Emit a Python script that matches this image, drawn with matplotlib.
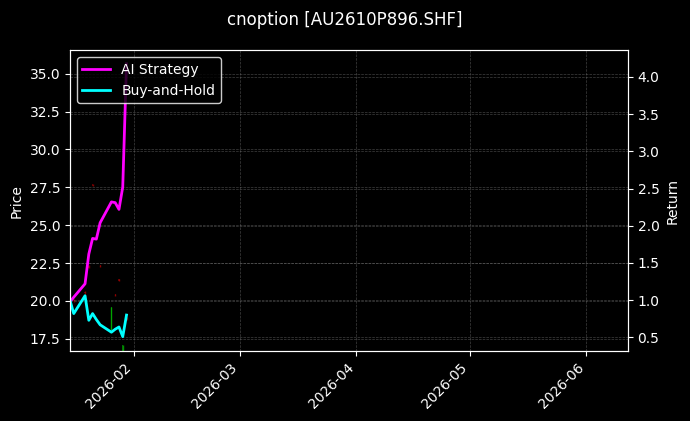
import numpy as np
import pandas as pd
import matplotlib
matplotlib.use("Agg")
import matplotlib.pyplot as plt
import matplotlib.dates as mdates

# trading days shown in the chart
dates = pd.to_datetime(["2026-01-15", "2026-01-16", "2026-01-19", "2026-01-20",
                        "2026-01-21", "2026-01-22", "2026-01-23", "2026-01-26",
                        "2026-01-27", "2026-01-28", "2026-01-29", "2026-01-30"])

# option price candles (mostly tiny, barely visible)
opens  = [19.9, 20.1, 20.6, 22.3, 27.70, 24.3, 22.35, 18.1, 20.45, 21.45, 16.6, 18.9]
closes = [19.8, 20.0, 20.5, 22.2, 27.60, 24.2, 22.25, 19.6, 20.35, 21.35, 17.1, 18.8]
highs  = [19.95, 20.15, 20.65, 22.35, 27.70, 24.35, 22.35, 19.6, 20.45, 21.45, 17.1, 18.95]
lows   = [19.75, 19.95, 20.45, 22.15, 27.60, 24.15, 22.25, 18.1, 20.35, 21.35, 16.6, 18.75]

# cumulative returns
ai_strategy  = [0.98, 1.04, 1.22, 1.62, 1.83, 1.82, 2.04, 2.32, 2.31, 2.22, 2.52, 4.175]
buy_and_hold = [1.00, 0.82, 1.06, 0.73, 0.82, 0.74, 0.67, 0.57, 0.61, 0.64, 0.51, 0.80]

plt.style.use("dark_background")
fig = plt.figure(figsize=(6.9, 4.21), dpi=100)
ax = fig.add_axes([0.1014, 0.166, 0.8086, 0.715])
ax2 = ax.twinx()

# candles on price axis
for d, o, c, h, l in zip(dates, opens, closes, highs, lows):
    col = "#00b400" if c > o else "#a00000"
    ax.vlines(d, l, h, color=col, linewidth=1, alpha=0.8)
    ax.bar(d, abs(c - o), bottom=min(o, c), width=0.3, color=col, alpha=0.6)

ax.set_ylim(16.69, 36.56)
ax.set_ylabel("Price")
ax.grid(True, linestyle="--", linewidth=0.5, color="gray", alpha=0.5)

ax2.plot(dates, ai_strategy, color="#ff00ff", linewidth=2, label="AI Strategy")
ax2.plot(dates, buy_and_hold, color="#00ffff", linewidth=2, label="Buy-and-Hold")
ax2.set_ylim(0.316, 4.359)
ax2.set_ylabel("Return")
ax2.grid(True, linestyle="--", linewidth=0.5, color="gray", alpha=0.5)
ax2.legend(loc="upper left", facecolor="black", edgecolor="white", framealpha=0.8)

ax.set_xlim(pd.Timestamp("2026-01-15"), pd.Timestamp("2026-06-12"))
ax.xaxis.set_major_locator(mdates.MonthLocator())
ax.xaxis.set_major_formatter(mdates.DateFormatter("%Y-%m"))
plt.setp(ax.get_xticklabels(), rotation=45, ha="right")

fig.suptitle("cnoption [AU2610P896.SHF]", fontsize=12, y=0.975)

fig.savefig("out.png", dpi=100)
